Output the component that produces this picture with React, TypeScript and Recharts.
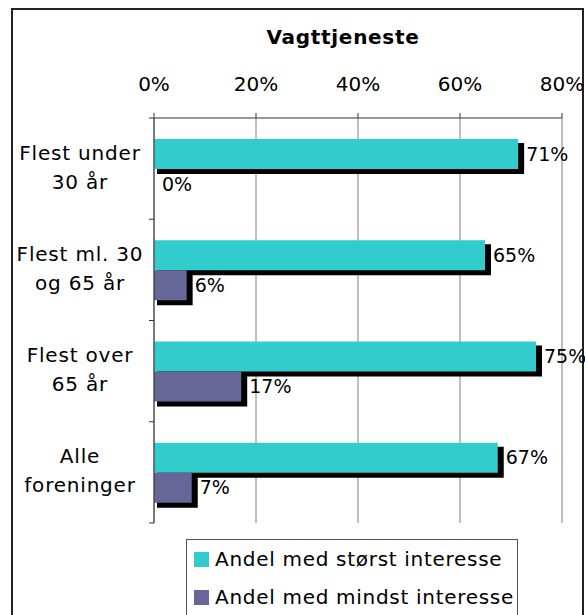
import { Bar, BarChart, CartesianGrid, LabelList, XAxis, YAxis } from "recharts";

// categories (line breaks as in the original axis labels)
const categories = [
  "Flest under\n30 år",
  "Flest ml. 30\nog 65 år",
  "Flest over\n65 år",
  "Alle\nforeninger",
];
const storstInteresse = [71.4, 64.9, 74.9, 67.4];
const minstInteresse = [0, 6.4, 17.1, 7.4];
const xTicks = [0, 20, 40, 60, 80];
const seriesLabels = ["Andel med størst interesse", "Andel med mindst interesse"];

const data = categories.map((name, i) => ({
  name,
  storst: storstInteresse[i],
  minst: minstInteresse[i],
}));

const series = [
  { key: "storst", label: seriesLabels[0], color: "#33cccc" },
  { key: "minst", label: seriesLabels[1], color: "#666699" },
];

const W = 585;
const H = 615;
const margin = { top: 78, right: 23, bottom: 92, left: 12 };
const X_AXIS_H = 40;
const Y_AXIS_W = 142;
const PLOT_LEFT = margin.left + Y_AXIS_W;
const PLOT_H = H - margin.top - X_AXIS_H - margin.bottom;
const FONT = "'DejaVu Sans', Verdana, sans-serif";

function ShadowBar(props: any) {
  const { x, y, width, height, fill } = props;
  if (!width || width <= 0) return <g />;
  return (
    <g>
      <rect x={x + 3} y={y + 4} width={width + 3} height={height + 1} fill="#000" />
      <rect x={x} y={y} width={width} height={height} fill={fill} />
    </g>
  );
}

function CategoryTick(props: any) {
  const { y, payload, index } = props;
  const lines = String(payload.value).split("\n");
  const band = PLOT_H / categories.length;
  const isLast = index === categories.length - 1;
  return (
    <g>
      <line x1={PLOT_LEFT - 5} x2={PLOT_LEFT} y1={y - band / 2} y2={y - band / 2} stroke="#333" />
      {isLast && (
        <line x1={PLOT_LEFT - 5} x2={PLOT_LEFT} y1={y + band / 2} y2={y + band / 2} stroke="#333" />
      )}
      <text
        x={80}
        y={y}
        textAnchor="middle"
        fontSize={20}
        fill="#000"
        style={{ letterSpacing: 0.8 }}
      >
        {lines.map((l, i) => (
          <tspan key={i} x={80} y={y + (i - (lines.length - 1) / 2) * 29 - 1.5} dy="0.35em">
            {l}
          </tspan>
        ))}
      </text>
    </g>
  );
}

export default function App() {
  return (
    <div
      style={{
        position: "absolute",
        left: 0,
        top: 0,
        width: W,
        height: H,
        overflow: "hidden",
        background: "#fff",
        fontFamily: FONT,
      }}
    >
      <div
        style={{
          position: "absolute",
          left: 11,
          top: 8,
          width: 573,
          height: 700,
          border: "2px solid #222",
          boxSizing: "border-box",
        }}
      />
      <div
        style={{
          position: "absolute",
          left: 243,
          top: 27,
          width: 200,
          textAlign: "center",
          fontSize: 20,
          lineHeight: "20px",
          fontWeight: "bold",
          letterSpacing: 0.7,
          color: "#000",
        }}
      >
        Vagttjeneste
      </div>
      <div style={{ position: "absolute", left: 0, top: 0 }}>
        <BarChart
          width={W}
          height={H}
          data={data}
          layout="vertical"
          margin={margin}
          barSize={30}
          barGap={0}
        >
          <CartesianGrid horizontal={false} stroke="#808080" />
          <XAxis
            type="number"
            orientation="top"
            domain={[0, 80]}
            ticks={xTicks}
            height={X_AXIS_H}
            tickFormatter={(v) => `${v}%`}
            tick={{ fontSize: 20, fill: "#000" }}
            tickSize={5}
            tickMargin={22}
            axisLine={{ stroke: "#333" }}
            tickLine={{ stroke: "#333" }}
          />
          <XAxis
            xAxisId="bottom"
            type="number"
            orientation="bottom"
            domain={[0, 80]}
            height={0}
            tick={false}
            tickLine={false}
            axisLine={{ stroke: "#555" }}
          />
          <YAxis
            type="category"
            dataKey="name"
            width={Y_AXIS_W}
            tick={<CategoryTick />}
            tickLine={false}
            axisLine={{ stroke: "#333" }}
            interval={0}
          />
          {series.map((s) => (
            <Bar
              key={s.key}
              dataKey={s.key}
              name={s.label}
              fill={s.color}
              shape={<ShadowBar />}
              isAnimationActive={false}
            >
              <LabelList
                dataKey={s.key}
                position="right"
                offset={8}
                formatter={(v: any) => `${Math.round(Number(v))}%`}
                style={{ fontSize: 19, fill: "#000" }}
              />
            </Bar>
          ))}
        </BarChart>
      </div>
      <div
        style={{
          position: "absolute",
          left: 186,
          top: 539,
          width: 332,
          height: 120,
          border: "1px solid #555",
          boxSizing: "border-box",
          paddingLeft: 7,
        }}
      >
        {series.map((s) => (
          <div key={s.key} style={{ display: "flex", alignItems: "center", height: 38 }}>
            <span style={{ width: 15, height: 15, background: s.color, marginRight: 6 }} />
            <span style={{ fontSize: 20, letterSpacing: 0.7, color: "#000" }}>{s.label}</span>
          </div>
        ))}
      </div>
    </div>
  );
}
